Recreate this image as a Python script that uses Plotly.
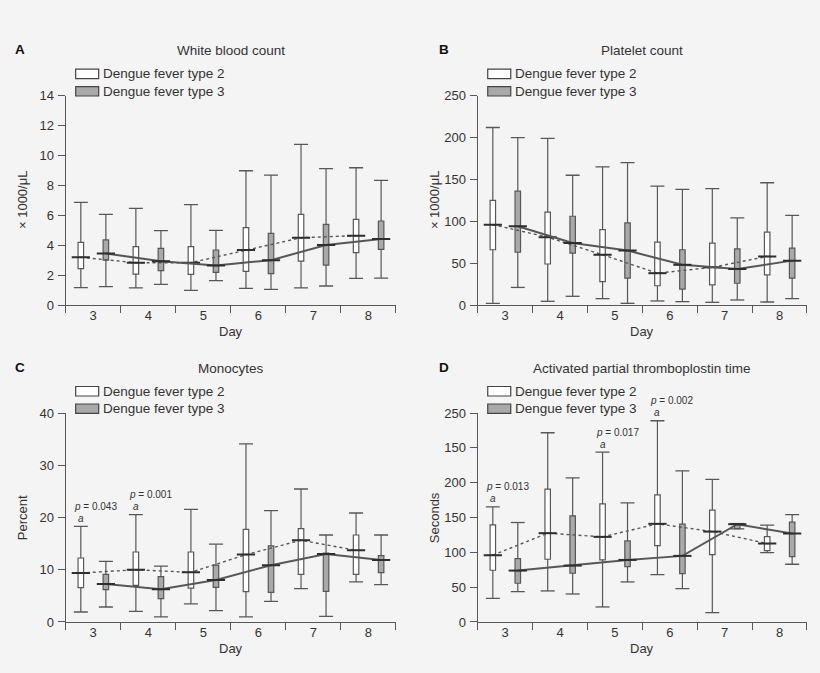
import plotly.graph_objects as go

DAYS = [3, 4, 5, 6, 7, 8]
GROUPS = ['Dengue fever type 2', 'Dengue fever type 3']

# A: white blood count (x 1000/uL) - whisker low, q1, median, q3, whisker high
wbc2_low = [1.16, 1.14, 0.98, 1.11, 1.14, 1.78]
wbc2_q1 = [2.43, 2.07, 2.05, 2.25, 2.94, 3.50]
wbc2_med = [3.19, 2.83, 2.83, 3.68, 4.50, 4.64]
wbc2_q3 = [4.19, 3.90, 3.90, 5.17, 6.06, 5.73]
wbc2_high = [6.87, 6.46, 6.71, 8.98, 10.74, 9.18]
wbc3_low = [1.23, 1.38, 1.63, 1.05, 1.27, 1.80]
wbc3_q1 = [3.00, 2.30, 2.18, 2.10, 2.67, 3.72]
wbc3_med = [3.45, 2.93, 2.65, 3.00, 4.01, 4.41]
wbc3_q3 = [4.35, 3.79, 3.68, 4.79, 5.39, 5.62]
wbc3_high = [6.06, 4.97, 4.99, 8.69, 9.12, 8.34]

# B: platelet count (x 1000/uL)
plt2_low = [2, 4.4, 7.6, 4.8, 3.2, 3.6]
plt2_q1 = [66, 49, 28, 23, 24, 36]
plt2_med = [96, 81, 60, 38, 45, 58]
plt2_q3 = [125, 111, 90, 75, 74, 87]
plt2_high = [212, 199, 165, 142, 139, 146]
plt3_low = [21, 10.4, 2, 4, 6, 7.6]
plt3_q1 = [63, 62, 32, 19, 26, 32]
plt3_med = [94, 74, 65, 48, 43, 53]
plt3_q3 = [136, 106, 98, 66, 67, 68]
plt3_high = [200, 155, 170, 138, 104, 107]

# C: monocytes (percent)
mono2_low = [1.91, 2.05, 3.45, 0.96, 6.39, 7.66]
mono2_q1 = [6.58, 7.0, 6.5, 5.81, 9.13, 9.13]
mono2_med = [9.38, 10.0, 9.5, 12.9, 15.64, 13.72]
mono2_q3 = [12.25, 13.4, 13.4, 17.74, 17.87, 16.65]
mono2_high = [18.3, 20.55, 21.57, 34.1, 25.46, 20.86]
mono3_low = [2.87, 0.96, 2.17, 3.96, 1.09, 7.15]
mono3_q1 = [6.2, 4.47, 6.64, 5.68, 5.87, 9.45]
mono3_med = [7.27, 6.26, 8.04, 10.85, 13.0, 11.87]
mono3_q3 = [9.13, 8.7, 10.9, 14.55, 13.2, 12.7]
mono3_high = [11.6, 10.7, 14.9, 21.3, 16.65, 16.65]

# D: activated partial thromboplastin time (seconds, on the printed axis scale)
aptt2_low = [34, 44.6, 21.6, 68, 13.4, 99.6]
aptt2_q1 = [74.3, 90.1, 89.1, 109.7, 96.8, 102.5]
aptt2_med = [95.9, 127.5, 122.2, 140.9, 129.8, 112.6]
aptt2_q3 = [139.4, 190.7, 169.6, 182.5, 160.6, 122.6]
aptt2_high = [165.3, 271.7, 243.9, 288.9, 204.6, 139]
aptt3_low = [43.6, 40.2, 57.5, 47.9, 133.7, 82.9]
aptt3_q1 = [55.6, 70, 79.5, 69.4, 134.1, 93.9]
aptt3_med = [73.8, 81, 89.1, 94.9, 140.4, 126.9]
aptt3_q3 = [91, 152.4, 116.4, 140.4, 140.9, 143.3]
aptt3_high = [142.8, 207, 171, 217, 141.3, 154.2]

# tick labels as printed (panel D repeats "150")
aptt_tickvals = [0, 50, 100, 150, 200, 250, 300]
aptt_ticktext = ['0', '50', '100', '150', '200', '150', '250']

# significance notes: panel, day, p-value text
p_notes = [('C', 3, '0.043'), ('C', 4, '0.001'),
           ('D', 3, '0.013'), ('D', 5, '0.017'), ('D', 6, '0.002')]

BG = '#f4f4f4'
LINE = '#575757'
DARK = '#2e2e2e'
TEXT = '#333333'
GREY_FILL = '#a9a9a9'
FONT = 'Liberation Sans, Arial, sans-serif'
OFFSETS = [-0.225, 0.23]
FILLS = ['white', GREY_FILL]

PANELS = [
    dict(letter='A', title='White blood count', ytitle='× 1000/μL', ax='', dtick=2, yrange=[0, 14],
         data=[(wbc2_low, wbc2_q1, wbc2_med, wbc2_q3, wbc2_high),
               (wbc3_low, wbc3_q1, wbc3_med, wbc3_q3, wbc3_high)],
         xdom=[0.0801, 0.4829], ydom=[0.5468, 0.8578]),
    dict(letter='B', title='Platelet count', ytitle='× 1000/μL', ax='2', dtick=50, yrange=[0, 250],
         data=[(plt2_low, plt2_q1, plt2_med, plt2_q3, plt2_high),
               (plt3_low, plt3_q1, plt3_med, plt3_q3, plt3_high)],
         xdom=[0.5826, 0.9841], ydom=[0.5468, 0.8578]),
    dict(letter='C', title='Monocytes', ytitle='Percent', ax='3', dtick=10, yrange=[0, 40],
         data=[(mono2_low, mono2_q1, mono2_med, mono2_q3, mono2_high),
               (mono3_low, mono3_q1, mono3_med, mono3_q3, mono3_high)],
         xdom=[0.0801, 0.4829], ydom=[0.0758, 0.3863]),
    dict(letter='D', title='Activated partial thromboplostin time', ytitle='Seconds', ax='4', dtick=50,
         yrange=[0, 300],
         data=[(aptt2_low, aptt2_q1, aptt2_med, aptt2_q3, aptt2_high),
               (aptt3_low, aptt3_q1, aptt3_med, aptt3_q3, aptt3_high)],
         xdom=[0.5826, 0.9841], ydom=[0.0758, 0.3863]),
]

W, H = 820, 673

fig = go.Figure()
annotations = []
shapes = []

for panel in PANELS:
    xa, ya = 'x' + panel['ax'], 'y' + panel['ax']
    pw = (panel['xdom'][1] - panel['xdom'][0]) * W
    ph = (panel['ydom'][1] - panel['ydom'][0]) * H

    for g, (low, q1, med, q3, high) in enumerate(panel['data']):
        pos = [d + OFFSETS[g] for d in DAYS]
        fig.add_trace(go.Box(
            x=pos, q1=q1, median=med, q3=q3, lowerfence=low, upperfence=high,
            width=0.1, whiskerwidth=0, fillcolor=FILLS[g], boxpoints=False,
            line=dict(color=LINE, width=1.2), xaxis=xa, yaxis=ya,
            showlegend=False, hoverinfo='skip'))
        # whisker caps
        fig.add_trace(go.Scatter(
            x=pos + pos, y=low + high, mode='markers', xaxis=xa, yaxis=ya,
            marker=dict(symbol='line-ew', size=10, line=dict(color=LINE, width=1.3)),
            showlegend=False, hoverinfo='skip'))
        # median trend line
        fig.add_trace(go.Scatter(
            x=pos, y=med, mode='lines', xaxis=xa, yaxis=ya,
            line=dict(color=LINE, width=1.4 if g == 0 else 2.0, dash='dot' if g == 0 else 'solid'),
            showlegend=False, hoverinfo='skip'))
        # median marks
        fig.add_trace(go.Scatter(
            x=pos, y=med, mode='markers', xaxis=xa, yaxis=ya,
            marker=dict(symbol='line-ew', size=13, line=dict(color=DARK, width=2)),
            showlegend=False, hoverinfo='skip'))

    yaxis = dict(domain=panel['ydom'], anchor=xa, range=panel['yrange'], dtick=panel['dtick'],
                 showline=True, linecolor=LINE, linewidth=1.2, ticks='outside', ticklen=7,
                 tickcolor=LINE, tickwidth=1.2, showgrid=False, zeroline=False, automargin=False,
                 tickfont=dict(size=13, color=TEXT), ticklabelstandoff=1)
    if panel['letter'] == 'D':
        yaxis.update(tickmode='array', tickvals=aptt_tickvals, ticktext=aptt_ticktext)
    xaxis = dict(domain=panel['xdom'], anchor=ya, range=[2.5, 8.5], tickmode='array',
                 tickvals=DAYS, ticks='', showline=True, linecolor=LINE, linewidth=1.2,
                 showgrid=False, zeroline=False, automargin=False,
                 tickfont=dict(size=13, color=TEXT), ticklabelstandoff=-2,
                 minor=dict(tickmode='array', tickvals=[d - 0.5 for d in DAYS] + [DAYS[-1] + 0.5],
                            ticks='outside', ticklen=7, tickcolor=LINE, tickwidth=1.2,
                            showgrid=False))
    fig.update_layout({'xaxis' + panel['ax']: xaxis, 'yaxis' + panel['ax']: yaxis})

    xd, yd = xa + ' domain', ya + ' domain'
    annotations += [
        dict(text=panel['title'], xref=xd, yref=yd, x=0.5, y=1 + 45 / ph, showarrow=False,
             xanchor='center', yanchor='middle', font=dict(size=13.5, color=TEXT)),
        dict(text='<b>' + panel['letter'] + '</b>', xref='paper', yref=yd,
             x=(13 if panel['xdom'][0] < 0.5 else 436.5) / W, y=1 + 46 / ph, showarrow=False,
             xanchor='left', yanchor='middle', font=dict(size=13.5, color='#111')),
        dict(text=panel['ytitle'], xref=xd, yref=yd, x=-43 / pw, y=0.5, textangle=-90,
             showarrow=False, xanchor='center', yanchor='middle', font=dict(size=13, color=TEXT)),
        dict(text='Day', xref=xd, yref=yd, x=0.5, y=-26.5 / ph, showarrow=False,
             xanchor='center', yanchor='middle', font=dict(size=13, color=TEXT)),
    ]
    # legend swatches
    for g, name in enumerate(GROUPS):
        lo = (17 if g == 0 else -0.3) / ph
        hi = (26.5 if g == 0 else 9) / ph
        shapes.append(dict(type='rect', xref=xd, yref=yd, x0=10 / pw, x1=33 / pw,
                           y0=1 + lo, y1=1 + hi, fillcolor=FILLS[g],
                           line=dict(color='#444', width=1.2)))
        annotations.append(dict(text=name, xref=xd, yref=yd, x=35.5 / pw, y=1 + (lo + hi) / 2,
                                showarrow=False, xanchor='left', yanchor='middle',
                                font=dict(size=13.5, color=TEXT)))

panel_by_letter = {p['letter']: p for p in PANELS}
for letter, day, pval in p_notes:
    panel = panel_by_letter[letter]
    i = DAYS.index(day)
    top = panel['data'][0][4][i]
    xa, ya = 'x' + panel['ax'], 'y' + panel['ax']
    x = day + OFFSETS[0]
    annotations += [
        dict(text='<i>a</i>', xref=xa, yref=ya, x=x, y=top, yshift=8, showarrow=False,
             xanchor='center', yanchor='middle', font=dict(size=10, color=TEXT)),
        dict(text='<i>p</i> = ' + pval, xref=xa, yref=ya, x=x, y=top, xshift=-9, yshift=20,
             showarrow=False, xanchor='left', yanchor='middle', font=dict(size=10, color=TEXT)),
    ]

fig.update_layout(
    width=W, height=H, margin=dict(l=0, r=0, t=0, b=0),
    paper_bgcolor=BG, plot_bgcolor=BG, font=dict(family=FONT, color=TEXT),
    boxmode='overlay', hovermode=False, showlegend=False,
    annotations=annotations, shapes=shapes,
)

fig.write_html('out.html', config={'displayModeBar': False},
               post_script="document.body.style.margin='0px';")
